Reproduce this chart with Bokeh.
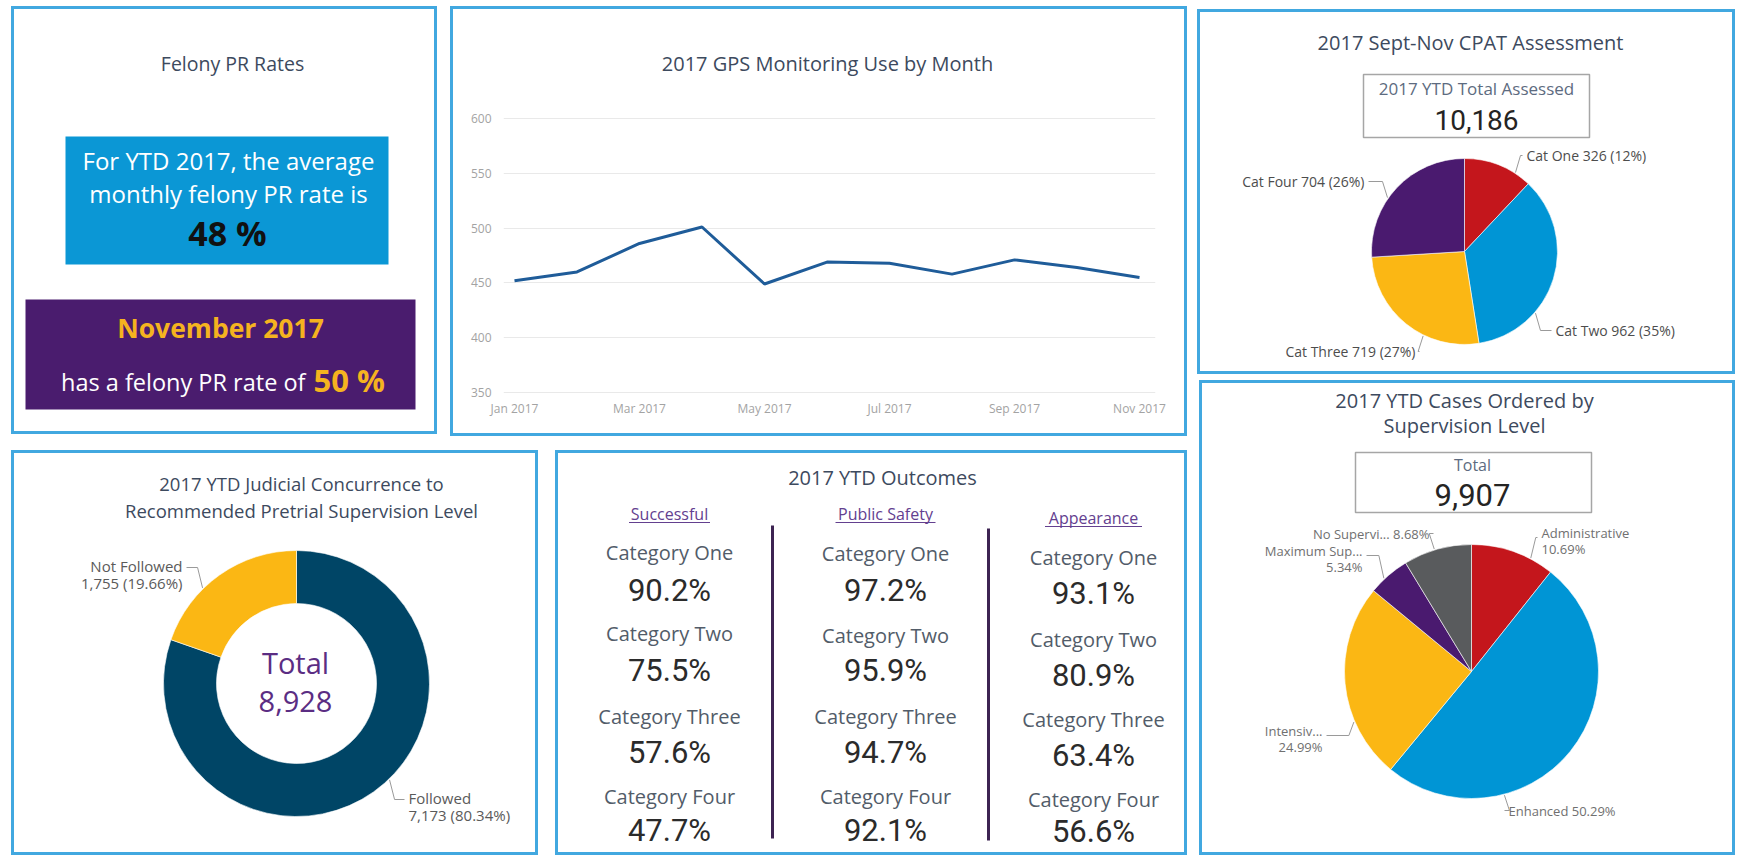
import math
from bokeh.plotting import figure
from bokeh.models import Range1d, FixedTicker
from bokeh.core.properties import value
from bokeh.embed import file_html
from bokeh.resources import INLINE

# ---------------- data ----------------
felony_title = "Felony PR Rates"
felony_ytd_avg = 48
felony_month = "November 2017"
felony_month_rate = 50

gps_title = "2017 GPS Monitoring Use by Month"
gps_months = ["Jan 2017", "Feb 2017", "Mar 2017", "Apr 2017", "May 2017", "Jun 2017",
              "Jul 2017", "Aug 2017", "Sep 2017", "Oct 2017", "Nov 2017"]
gps_values = [452, 460, 486, 501, 449, 469, 468, 458, 471, 464, 455]
gps_yticks = [350, 400, 450, 500, 550, 600]

cpat_title = "2017 Sept-Nov CPAT Assessment"
cpat_total_label = "2017 YTD Total Assessed"
cpat_total = "10,186"
cpat_cats = ["Cat One", "Cat Two", "Cat Three", "Cat Four"]
cpat_counts = [326, 962, 719, 704]

sup_title = ["2017 YTD Cases Ordered by", "Supervision Level"]
sup_total_label = "Total"
sup_total = "9,907"
sup_levels = ["Administrative", "Enhanced", "Intensiv...", "Maximum Sup...", "No Supervi..."]
sup_pcts = [10.69, 50.29, 24.99, 5.34, 8.68]

jc_title = ["2017 YTD Judicial Concurrence to", "Recommended Pretrial Supervision Level"]
jc_labels = ["Followed", "Not Followed"]
jc_counts = [7173, 1755]

out_title = "2017 YTD Outcomes"
out_groups = ["Successful", "Public Safety", "Appearance"]
out_cats = ["Category One", "Category Two", "Category Three", "Category Four"]
out_successful = [90.2, 75.5, 57.6, 47.7]
out_public_safety = [97.2, 95.9, 94.7, 92.1]
out_appearance = [93.1, 80.9, 63.4, 56.6]

# ---------------- styles ----------------
FONT = "Open Sans"
NUMFONT = "Roboto"
BW = 3
BORDER = "#41a8e0"
TITLE_C = "#3d4a5e"
BLUE_BOX = "#0b97d5"
PURPLE_BOX = "#4a1c6e"
ORANGE = "#f5b31f"
RED = "#c4161c"
BLUE = "#0095d5"
YELLOW = "#fbb714"
PURPLE = "#4a1a6f"
GREY = "#595b5d"
TEAL = "#004566"
LEADER = "#9a9a9a"


def box_styles(rx, ry):
    return {"position": "absolute", "left": f"{rx}px", "top": f"{ry}px",
            "border": f"{BW}px solid {BORDER}", "box-sizing": "border-box",
            "overflow": "hidden"}


def panel(rx, ry, w, h):
    # the canvas starts inside the border and is w x h (clipped by the box)
    x0, y0 = rx + BW, ry + BW
    p = figure(width=w, height=h,
               x_range=Range1d(x0, x0 + w), y_range=Range1d(-(y0 + h), -y0),
               x_axis_location=None, y_axis_location=None, min_border=0,
               output_backend="svg", toolbar_location=None, outline_line_color=None,
               background_fill_color="white", border_fill_color="white",
               styles=box_styles(rx, ry))
    p.xgrid.visible = False
    p.ygrid.visible = False
    return p


def txt(p, x, y, s, size, color, font=FONT, align="center", bold=False):
    p.text(x=[x], y=[-y], text=[s], text_font=value(font), text_font_size=f"{size}px",
           text_color=color, text_align=align, text_baseline="middle",
           text_font_style="bold" if bold else "normal")


def pie_angles(vals):
    tot = float(sum(vals))
    starts, ends, f0s, f1s = [], [], [], []
    c = 0.0
    for v in vals:
        f0 = c / tot
        c += v
        f1 = c / tot
        f0s.append(f0)
        f1s.append(f1)
        starts.append(math.pi / 2 - 2 * math.pi * f0)
        ends.append(math.pi / 2 - 2 * math.pi * f1)
    return starts, ends, f0s, f1s


def leaders(p, cx, cy, r, f0s, f1s, anchors, sides):
    xs, ys = [], []
    for f0, f1, (lx, ly), sd in zip(f0s, f1s, anchors, sides):
        c0, c1 = 360 * f0, 360 * f1
        th = math.degrees(math.atan2(lx - cx, cy - ly)) % 360
        m = min(4.0, (c1 - c0) / 3)
        th = min(max(th, c0 + m), c1 - m)
        t = math.radians(th)
        ex, ey = cx + (r + 1) * math.sin(t), cy - (r + 1) * math.cos(t)
        sg = 1 if sd == "right" else -1
        xs.append([ex, ex + sg * 5, lx - sg * 4])
        ys.append([-ey, -ly, -ly])
    p.multi_line(xs, ys, line_color=LEADER, line_width=1)


# ---------------- panel 1: Felony PR rates ----------------
p1 = panel(11, 6, 426, 428)
txt(p1, 232, 63, felony_title, 19.5, TITLE_C)
p1.quad(left=[65], right=[388], top=[-136], bottom=[-264], fill_color=BLUE_BOX, line_color=None)
txt(p1, 228, 160, "For YTD 2017, the average", 24, "white")
txt(p1, 228, 193, "monthly felony PR rate is", 24, "white")
txt(p1, 227, 232, f"{felony_ytd_avg} %", 34, "#111111", bold=True)
p1.quad(left=[25], right=[415], top=[-299], bottom=[-409], fill_color=PURPLE_BOX, line_color=None)
txt(p1, 220, 327, felony_month, 26.5, ORANGE, bold=True)
txt(p1, 305, 381, "has a felony PR rate of", 23.5, "white", align="right")
txt(p1, 313, 379, f"{felony_month_rate} %", 31, ORANGE, align="left", bold=True)

# ---------------- panel 2: GPS line ----------------
P2X, P2Y, P2W, P2H = 450, 6, 737, 430
C2X, C2Y = P2X + BW, P2Y + BW                      # canvas origin (page px)
F_L, F_R, F_T, F_B = 503, 1155, C2Y, 395           # frame edges (page px)
Y600, Y350 = 118, 392                              # where the 600 / 350 gridlines sit
X0PX, X10PX = 514, 1139                            # where Jan / Nov sit
ky = (Y350 - Y600) / 250.0
kx = (X10PX - X0PX) / 10.0
p2 = figure(width=P2W, height=P2H,
            x_range=Range1d(-(X0PX - F_L) / kx, 10 + (F_R - X10PX) / kx),
            y_range=Range1d(350 - (F_B - Y350) / ky, 600 + (Y600 - F_T) / ky),
            min_border_left=F_L - C2X, min_border_right=(C2X + P2W) - F_R,
            min_border_top=0, min_border_bottom=(C2Y + P2H) - F_B,
            output_backend="svg", toolbar_location=None,
            outline_line_color=None, background_fill_color="white", border_fill_color="white",
            styles=box_styles(P2X, P2Y))
p2.line(x=list(range(len(gps_values))), y=gps_values, line_color="#1f5c99", line_width=3)
p2.text(x=[(827 - X0PX) / kx], y=[600 + (Y600 - 63) / ky], text=[gps_title],
        text_font=value(FONT), text_font_size="20px", text_color=TITLE_C,
        text_align="center", text_baseline="middle")
p2.xaxis.ticker = FixedTicker(ticks=list(range(0, len(gps_months), 2)))
p2.xaxis.major_label_overrides = {i: gps_months[i] for i in range(0, len(gps_months), 2)}
p2.yaxis.ticker = FixedTicker(ticks=gps_yticks)
for ax in (p2.xaxis[0], p2.yaxis[0]):
    ax.axis_line_color = None
    ax.major_tick_line_color = None
    ax.minor_tick_line_color = None
    ax.major_tick_out = 0
    ax.major_tick_in = 0
    ax.minor_tick_out = 0
    ax.major_label_text_font = FONT
    ax.major_label_text_font_size = "12px"
    ax.major_label_text_color = "#a3a3a3"
p2.xaxis.major_label_standoff = 4
p2.yaxis.major_label_standoff = 12
p2.xgrid.grid_line_color = None
p2.ygrid.grid_line_color = "#e9e9e9"
p2.ygrid.grid_line_width = 1

# ---------------- panel 3: CPAT pie ----------------
p3 = panel(1197, 9, 538, 365)
txt(p3, 1470, 42, cpat_title, 20, TITLE_C)
p3.quad(left=[1363], right=[1589], top=[-74], bottom=[-137], fill_color="white",
        line_color="#a6a6a6", line_width=1.5)
txt(p3, 1476, 88, cpat_total_label, 17, "#5d6b80")
txt(p3, 1476, 119, cpat_total, 28, "#252423", font=NUMFONT)
c3x, c3y, r3 = 1464, 251, 93
s3, e3, f03, f13 = pie_angles(cpat_counts)
p3.wedge(x=[c3x] * 4, y=[-c3y] * 4, radius=r3, radius_units="screen",
         start_angle=s3, end_angle=e3, direction="clock",
         fill_color=[RED, BLUE, YELLOW, PURPLE], line_color="white", line_width=0.6)
tot3 = sum(cpat_counts)
cpat_text = [f"{c} {n} ({round(100 * n / tot3)}%)" for c, n in zip(cpat_cats, cpat_counts)]
cpat_pos = [(1526, 155), (1555, 330), (1415, 351), (1364, 181)]
cpat_side = ["right", "right", "left", "left"]
leaders(p3, c3x, c3y, r3, f03, f13, cpat_pos, cpat_side)
for s, (lx, ly), sd in zip(cpat_text, cpat_pos, cpat_side):
    txt(p3, lx, ly, s, 14, "#4d4d4d", align="left" if sd == "right" else "right")

# ---------------- panel 4: supervision level pie ----------------
p4 = panel(1199, 380, 536, 475)
txt(p4, 1464, 400, sup_title[0], 20, TITLE_C)
txt(p4, 1464, 425, sup_title[1], 20, TITLE_C)
p4.quad(left=[1355], right=[1591], top=[-452], bottom=[-512], fill_color="white",
        line_color="#a6a6a6", line_width=1.5)
txt(p4, 1472, 464, sup_total_label, 16, "#5d6b80")
txt(p4, 1472, 494, sup_total, 31, "#252423", font=NUMFONT)
c4x, c4y, r4 = 1471, 671, 127
s4, e4, f04, f14 = pie_angles(sup_pcts)
p4.wedge(x=[c4x] * 5, y=[-c4y] * 5, radius=r4, radius_units="screen",
         start_angle=s4, end_angle=e4, direction="clock",
         fill_color=[RED, BLUE, YELLOW, PURPLE, GREY], line_color="white", line_width=0.6)
sup_pos = [(1541, 532), (1508, 810), (1322, 730), (1362, 550), (1429, 533)]
sup_side = ["right", "right", "left", "left", "left"]
sup_two = [True, False, True, True, False]
anch4 = [(x, y + (5 if two else 0)) for (x, y), two in zip(sup_pos, sup_two)]
leaders(p4, c4x, c4y, r4, f04, f14, anch4, sup_side)
for lab, pct, (lx, ly), sd, two in zip(sup_levels, sup_pcts, sup_pos, sup_side, sup_two):
    al = "left" if sd == "right" else "right"
    if two:
        txt(p4, lx, ly, lab, 13, "#707070", align=al)
        txt(p4, lx, ly + 16, f"{pct:.2f}%", 13, "#707070", align=al)
    else:
        txt(p4, lx, ly, f"{lab} {pct:.2f}%", 13, "#707070", align=al)

# ---------------- panel 5: judicial concurrence donut ----------------
p5 = panel(11, 450, 527, 405)
txt(p5, 301, 483, jc_title[0], 18.5, TITLE_C)
txt(p5, 301, 510, jc_title[1], 18.5, TITLE_C)
c5x, c5y, r5o, r5i = 296, 683, 133, 80
s5, e5, f05, f15 = pie_angles(jc_counts)
p5.annular_wedge(x=[c5x] * 2, y=[-c5y] * 2, inner_radius=r5i, outer_radius=r5o,
                 inner_radius_units="screen", outer_radius_units="screen",
                 start_angle=s5, end_angle=e5, direction="clock",
                 fill_color=[TEAL, YELLOW], line_color="white", line_width=0.6)
tot5 = sum(jc_counts)
txt(p5, 295, 662, "Total", 29, "#5b2d83")
txt(p5, 295, 701, f"{tot5:,}", 29, "#5b2d83")
jc_pos = [(408, 797), (182, 565)]
jc_side = ["right", "left"]
leaders(p5, c5x, c5y, r5o, f05, f15, [(x, y + 2) for x, y in jc_pos], jc_side)
for lab, n, (lx, ly), sd in zip(jc_labels, jc_counts, jc_pos, jc_side):
    al = "left" if sd == "right" else "right"
    txt(p5, lx, ly, lab, 15, "#5a5a5a", align=al)
    txt(p5, lx, ly + 17, f"{n:,} ({100 * n / tot5:.2f}%)", 15, "#5a5a5a", align=al)

# ---------------- panel 6: outcomes ----------------
p6 = panel(555, 450, 632, 405)
txt(p6, 882, 477, out_title, 20, TITLE_C)
col_x = [669, 885, 1093]
head_y = [513, 513, 517]
head_w = [81, 100, 97]
cat_y = [[552, 633, 716, 796], [553, 635, 716, 796], [557, 639, 719, 799]]
val_y = [[590, 670, 752, 830], [590, 670, 752, 830], [593, 675, 755, 831]]
series = [out_successful, out_public_safety, out_appearance]
for k, g in enumerate(out_groups):
    txt(p6, col_x[k], head_y[k], g, 16, "#63408f")
    p6.segment(x0=[col_x[k] - head_w[k] / 2], x1=[col_x[k] + head_w[k] / 2],
               y0=[-(head_y[k] + 9)], y1=[-(head_y[k] + 9)], line_color="#63408f", line_width=1)
    for j, c in enumerate(out_cats):
        txt(p6, col_x[k], cat_y[k][j], c, 20, "#525c69")
        txt(p6, col_x[k], val_y[k][j], f"{series[k][j]:.1f}%", 31, "#2b2b2b", font=NUMFONT)
p6.segment(x0=[772, 988], x1=[772, 988], y0=[-525, -528], y1=[-838, -840],
           line_color="#3d2352", line_width=3)

open("out.html", "w").write(file_html([p1, p2, p3, p4, p5, p6], INLINE))
